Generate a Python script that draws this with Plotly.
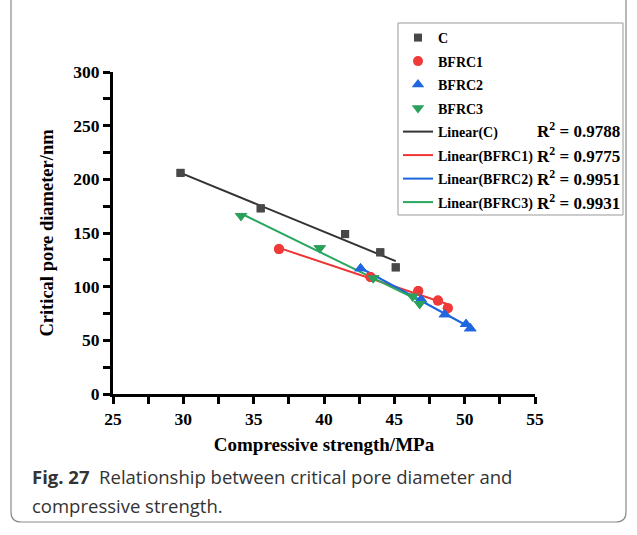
import numpy as np
import plotly.graph_objects as go

# ---- data ----
c_x = [29.8, 35.5, 41.5, 44.0, 45.1]
c_y = [206, 173, 149, 132, 118]
b1_x = [36.8, 43.3, 46.7, 48.1, 48.8]
b1_y = [135, 109, 96, 87, 80]
b2_x = [42.6, 46.9, 48.6, 50.1, 50.4]
b2_y = [117, 88, 74, 65, 61]
b3_x = [34.1, 39.7, 43.5, 46.3, 46.8]
b3_y = [166, 136, 108, 91, 84]
series_names = ["C", "BFRC1", "BFRC2", "BFRC3"]
r2_labels = ["0.9788", "0.9775", "0.9951", "0.9931"]
x_ticks = [25, 30, 35, 40, 45, 50, 55]
y_ticks = [0, 50, 100, 150, 200, 250, 300]

W, H = 637, 535
L, R, T, B = 113, 535, 72, 394  # plot area in pixels

def px(x):
    return (x - L) / (R - L)

def py(y):
    return (B - y) / (B - T)

SERIF = "Liberation Serif"
colors_m = ["#484848", "#f03a3a", "#1f66e0", "#2aa05a"]
colors_l = ["#333333", "#ee3535", "#1a66dd", "#2aa660"]
symbols = ["square", "circle", "triangle-up", "triangle-down"]
msizes = [8, 10, 11, 11]
data = [(c_x, c_y), (b1_x, b1_y), (b2_x, b2_y), (b3_x, b3_y)]

fig = go.Figure()
for i, (xs, ys) in enumerate(data):
    fig.add_trace(go.Scatter(
        x=xs, y=ys, mode="markers", name=series_names[i],
        legendgroup="m%d" % i,
        marker=dict(symbol=symbols[i], size=msizes[i], color=colors_m[i]),
    ))
for i, (xs, ys) in enumerate(data):
    k, b = np.polyfit(xs, ys, 1)
    xe = np.array([min(xs), max(xs)])
    fig.add_trace(go.Scatter(
        x=xe, y=k * xe + b, mode="lines", name="Linear(%s)" % series_names[i],
        legendgroup="l%d" % i,
        line=dict(color=colors_l[i], width=2),
    ))
# redraw markers on top of lines
for i, (xs, ys) in enumerate(data):
    fig.add_trace(go.Scatter(
        x=xs, y=ys, mode="markers", showlegend=False,
        marker=dict(symbol=symbols[i], size=msizes[i], color=colors_m[i]),
    ))

axis_common = dict(
    showline=True, linewidth=3, linecolor="black", showgrid=False, zeroline=False,
    ticks="outside", ticklen=7, tickwidth=3, tickcolor="black",
    tickfont=dict(family=SERIF, size=17.5, color="black", weight="bold"),
    minor=dict(ticks="outside", ticklen=7, tickwidth=3, tickcolor="black"),
)
fig.update_xaxes(range=[25, 55], tickvals=x_ticks, **axis_common,
                 title=dict(text="Compressive strength/MPa",
                            font=dict(family=SERIF, size=19, color="black", weight="bold"),
                            standoff=10))
fig.update_yaxes(range=[0, 300], tickvals=y_ticks, **axis_common,
                 title=dict(text="Critical pore diameter/nm",
                            font=dict(family=SERIF, size=18.5, color="black", weight="bold"),
                            standoff=15))
fig.update_xaxes(minor=dict(tickvals=[27.5, 32.5, 37.5, 42.5, 47.5, 52.5]))
fig.update_yaxes(minor=dict(tickvals=[25, 75, 125, 175, 225, 275]))

fig.update_layout(
    width=W, height=H,
    margin=dict(l=L, r=W - R, t=T, b=H - B),
    plot_bgcolor="white", paper_bgcolor="white",
    legend=dict(
        x=px(398), y=py(22), xanchor="left", yanchor="top",
        borderwidth=0, bgcolor="rgba(0,0,0,0)",
        font=dict(family=SERIF, size=14, color="black", weight="bold"),
        traceorder="grouped", tracegroupgap=2.3,
        itemwidth=30,
    ),
)

# legend frame
fig.add_shape(type="rect", xref="paper", yref="paper",
              x0=px(398), x1=px(623), y0=py(215), y1=py(23),
              line=dict(color="#999999", width=1), fillcolor="rgba(0,0,0,0)",
              layer="above")

# R^2 labels
r2_rows = [130, 155, 178, 202]
for lab, yy in zip(r2_labels, r2_rows):
    fig.add_annotation(
        x=px(622), y=py(yy), xref="paper", yref="paper", xanchor="right", yanchor="middle",
        text="R<sup>2</sup> = %s" % lab, showarrow=False,
        font=dict(family=SERIF, size=17, color="black", weight="bold"),
    )

# caption
fig.add_annotation(
    x=px(30), y=py(477), xref="paper", yref="paper", xanchor="left", yanchor="middle",
    text="<b>Fig. 27</b>  Relationship between critical pore diameter and", showarrow=False,
    font=dict(family="Open Sans", size=18.5, color="#333333"),
)
fig.add_annotation(
    x=px(30), y=py(505), xref="paper", yref="paper", xanchor="left", yanchor="middle",
    text="compressive strength.", showarrow=False,
    font=dict(family="Open Sans", size=18.5, color="#333333"),
)

# card border with rounded bottom corners
x0, x1 = px(11), px(626)
y0, y1 = py(522), py(-5)
rx, ry = 10 / (R - L), 10 / (B - T)
path = (f"M {x0},{y1} L {x0},{y0 + ry} Q {x0},{y0} {x0 + rx},{y0} "
        f"L {x1 - rx},{y0} Q {x1},{y0} {x1},{y0 + ry} L {x1},{y1}")
fig.add_shape(type="path", path=path, xref="paper", yref="paper",
              line=dict(color="#8a8a8a", width=1.2))

fig.write_html("out.html")
